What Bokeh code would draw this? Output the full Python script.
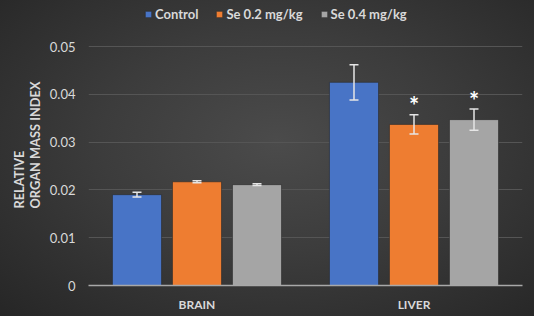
from bokeh.plotting import figure
from bokeh.models import (ColumnDataSource, FactorRange, Range1d, FixedTicker, Whisker,
                          TeeHead, Legend, LegendItem, Title)
from bokeh.transform import dodge
from bokeh.core.properties import value
from bokeh.embed import file_html
from bokeh.resources import INLINE

# ---- data ----
categories = ["BRAIN", "LIVER"]
series = ["Control", "Se 0.2 mg/kg", "Se 0.4 mg/kg"]
control = [0.0190, 0.0425]
se02 = [0.0217, 0.0337]
se04 = [0.0211, 0.0347]
control_err = [0.0005, 0.0037]
se02_err = [0.0002, 0.0020]
se04_err = [0.0002, 0.0022]
se02_sig = ["", "*"]
se04_sig = ["", "*"]
y_ticks = [0, 0.01, 0.02, 0.03, 0.04, 0.05]
y_tick_labels = ["0", "0.01", "0.02", "0.03", "0.04", "0.05"]
y_title = "RELATIVE\nORGAN MASS INDEX"

colors = ["#4874c6", "#ee7d31", "#a5a5a5"]
FONT = "Lato"
TXT = "#d9d9d9"

# frame spans from near the top (room for legend) down to the x axis
FRAME_TOP, GRID_TOP, FRAME_BOTTOM = 4, 46, 285
y_end = y_ticks[-1] * (FRAME_BOTTOM - FRAME_TOP) / (FRAME_BOTTOM - GRID_TOP)

p = figure(x_range=FactorRange(*categories), y_range=Range1d(0, y_end),
           width=534, height=316, output_backend="svg", toolbar_location=None,
           min_border_left=88, min_border_right=12, min_border_top=FRAME_TOP,
           min_border_bottom=316 - FRAME_BOTTOM)
p.border_fill_alpha = 0
p.background_fill_alpha = 0
p.outline_line_color = None
p.styles = {"background": "radial-gradient(ellipse at 52% 45%, #4b4b4b 0%, #3c3c3c 45%, #262626 100%)"}

offsets = [-0.2765, 0.0, 0.2765]
vals = [control, se02, se04]
errs = [control_err, se02_err, se04_err]
sigs = [["", ""], se02_sig, se04_sig]
renderers = []
for i, name in enumerate(series):
    v = vals[i]
    e = errs[i]
    src = ColumnDataSource(dict(cat=categories, val=v,
                                lo=[a - b for a, b in zip(v, e)],
                                hi=[a + b for a, b in zip(v, e)],
                                sig=sigs[i]))
    r = p.vbar(x=dodge("cat", offsets[i], range=p.x_range), top="val", width=0.226,
               source=src, fill_color=colors[i], line_color="#2a2a2a", line_alpha=0.6)
    renderers.append(r)
    w = Whisker(base=dodge("cat", offsets[i], range=p.x_range), upper="hi", lower="lo",
                source=src, line_color="#e6e6e6", line_width=1.5, level="overlay",
                upper_head=TeeHead(size=9, line_color="#e6e6e6", line_width=1.5),
                lower_head=TeeHead(size=9, line_color="#e6e6e6", line_width=1.5))
    p.add_layout(w)
    p.text(x=dodge("cat", offsets[i], range=p.x_range), y="hi", text="sig", source=src,
           text_font=value(FONT), text_font_size="24px", text_font_style="bold",
           text_color="#ffffff", text_align="center", text_baseline="middle", y_offset=-9)

legend = Legend(items=[LegendItem(label=s, renderers=[r]) for s, r in zip(series, renderers)],
                orientation="horizontal", location=(56, 263),
                background_fill_alpha=0, border_line_alpha=0, padding=0, margin=0,
                spacing=17, label_standoff=3, glyph_width=8, glyph_height=8,
                label_height=14, label_text_font=FONT, label_text_font_size="13px",
                label_text_font_style="bold", label_text_color=TXT)
p.add_layout(legend, "center")

# axes
p.xgrid.grid_line_color = None
p.ygrid.grid_line_color = "#555555"
p.ygrid.grid_line_width = 1
p.yaxis.ticker = FixedTicker(ticks=y_ticks)
p.yaxis.major_label_overrides = dict(zip(y_ticks, y_tick_labels))
p.yaxis.axis_line_color = None
p.yaxis.major_tick_line_color = None
p.yaxis.minor_tick_line_color = None
p.yaxis.major_tick_out = 0
p.yaxis.minor_tick_out = 0
p.yaxis.major_label_standoff = 13
p.yaxis.major_label_text_font = FONT
p.yaxis.major_label_text_font_size = "13px"
p.yaxis.major_label_text_color = TXT

ytitle = Title(text=y_title, align="center", standoff=8,
               text_font=FONT, text_font_size="12.8px", text_font_style="bold",
               text_color=TXT)
p.add_layout(ytitle, "left")

p.xaxis.axis_line_color = "#a8a8a8"
p.xaxis.axis_line_width = 1.5
p.xaxis.major_tick_line_color = None
p.xaxis.minor_tick_line_color = None
p.xaxis.major_tick_out = 0
p.xaxis.minor_tick_out = 0
p.xaxis.major_label_standoff = 11
p.xaxis.major_label_text_font = FONT
p.xaxis.major_label_text_font_size = "12px"
p.xaxis.major_label_text_font_style = "bold"
p.xaxis.major_label_text_color = TXT

open("out.html", "w").write(file_html(p, INLINE))
